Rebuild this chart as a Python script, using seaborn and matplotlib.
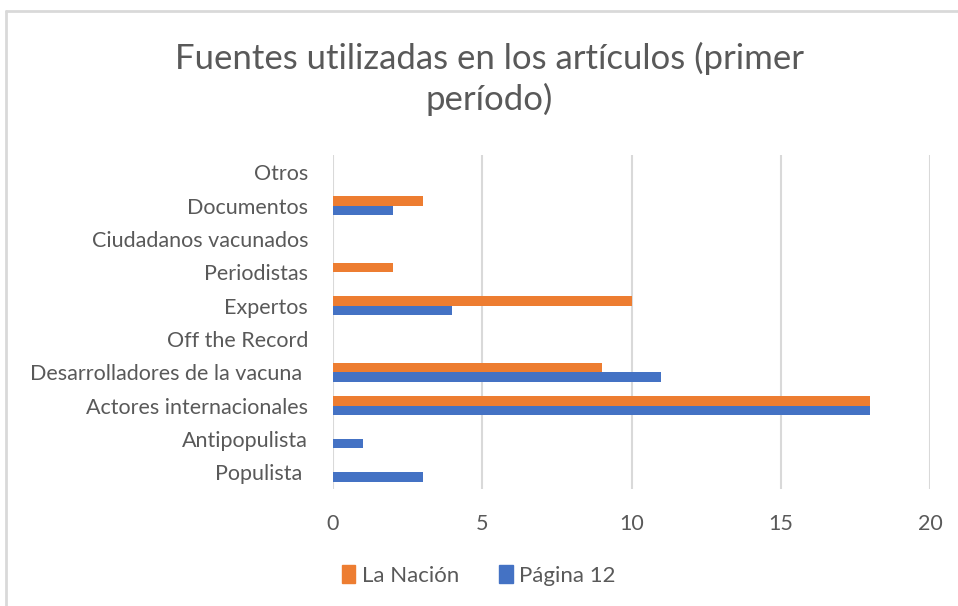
import matplotlib
matplotlib.use("Agg")
import matplotlib.pyplot as plt
import pandas as pd
import seaborn as sns
from matplotlib.lines import Line2D

# Datos (de arriba hacia abajo)
categorias = ["Otros", "Documentos", "Ciudadanos vacunados", "Periodistas", "Expertos",
              "Off the Record", "Desarrolladores de la vacuna ", "Actores internacionales",
              "Antipopulista", "Populista "]
la_nacion = [0, 3, 0, 2, 10, 0, 9, 18, 0, 0]
pagina_12 = [0, 2, 0, 0, 4, 0, 11, 18, 1, 3]
series = ["La Nación", "Página 12"]
colores = ["#ED7D31", "#4472C4"]
x_ticks = [0, 5, 10, 15, 20]

df = pd.DataFrame({
    "Fuente": categorias * 2,
    "Valor": la_nacion + pagina_12,
    "Diario": [series[0]] * len(categorias) + [series[1]] * len(categorias),
})

sns.set_style("white")
plt.rcParams["font.family"] = ["Lato", "DejaVu Sans"]
gris = "#595959"

fig = plt.figure(figsize=(9.58, 6.06), dpi=100)
ax = fig.add_axes([0.3476, 0.193, 0.6232, 0.5504])

sns.barplot(data=df, y="Fuente", x="Valor", hue="Diario", order=categorias,
            hue_order=series, palette=colores, orient="h", width=0.56,
            saturation=1, edgecolor="none", ax=ax, legend=False)

ax.set_xlim(0, 20)
ax.set_xticks(x_ticks)
ax.xaxis.grid(True, color="#D9D9D9", linewidth=1.5)
ax.set_axisbelow(True)
for s in ax.spines.values():
    s.set_visible(False)
ax.set_xlabel("")
ax.set_ylabel("")
ax.tick_params(axis="x", colors=gris, labelsize=15.5, length=0, pad=18)
ax.tick_params(axis="y", colors=gris, labelsize=15.5, length=0, pad=18)

fig.text(0.511, 1 - 79 / 606, "Fuentes utilizadas en los artículos (primer\nperíodo)",
         ha="center", va="center", fontsize=25, color=gris, linespacing=1.3)

handles = [plt.Rectangle((0, 0), 1, 1, color=c) for c in colores]
fig.legend(handles, series, loc="center", bbox_to_anchor=(0.5, 0.051), ncol=2,
           frameon=False, fontsize=16, labelcolor=gris, handlelength=0.6,
           handleheight=0.9, handletextpad=0.3, columnspacing=1.8)

# Borde del recuadro
fig.add_artist(Line2D([6 / 958, 1], [1 - 11 / 606, 1 - 11 / 606], color="#D9D9D9", linewidth=2, transform=fig.transFigure))
fig.add_artist(Line2D([6 / 958, 6 / 958], [0, 1 - 11 / 606], color="#D9D9D9", linewidth=2, transform=fig.transFigure))

fig.savefig("out.png", dpi=100)
